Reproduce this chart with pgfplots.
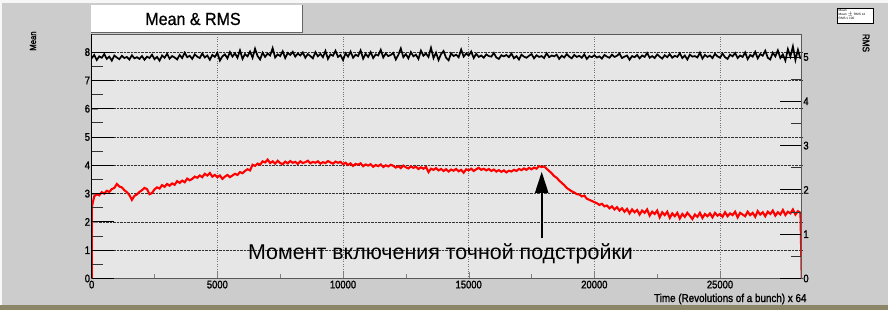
\documentclass[border=0pt]{standalone}
\usepackage{pgfplots}
\pgfplotsset{compat=1.18}
\usepackage{pgfplotstable}
\usetikzlibrary{arrows.meta}
\usepackage{fontspec}
\setmainfont{Liberation Sans}
\newfontfamily\rootfont[FakeStretch=0.86,FakeBold=1.5]{Liberation Sans}
\newfontfamily\titlefont[FakeStretch=0.92,FakeBold=0.8]{Liberation Sans}
\definecolor{outerbg}{HTML}{CCCCCC}
\definecolor{innerbg}{HTML}{E6E6E6}
\definecolor{band}{HTML}{8C8668}

\pgfplotstableread{
x y
0 7.78
100 7.90
200 7.72
300 7.85
400 7.80
500 7.93
600 7.76
700 7.84
800 7.70
900 7.88
1000 7.81
1100 7.75
1200 7.87
1300 7.79
1400 7.83
1500 7.74
1600 7.89
1700 7.78
1800 7.82
1900 7.76
2000 7.86
2100 7.73
2200 7.84
2300 7.79
2400 7.91
2500 7.75
2600 7.83
2700 7.70
2800 7.88
2900 7.80
3000 7.94
3100 7.77
3200 7.86
3300 7.81
3400 7.74
3500 7.90
3600 7.79
3700 7.98
3800 7.82
3900 7.87
4000 7.76
4100 7.92
4200 7.84
4300 7.79
4400 7.95
4500 7.81
4600 7.88
4700 7.73
4800 7.90
4900 7.83
5000 7.97
5100 7.70
5200 7.85
5300 7.92
5400 7.78
5500 8.00
5600 7.84
5700 7.96
5800 7.80
5900 8.06
6000 7.76
6100 7.93
6200 7.85
6300 8.02
6400 7.80
6500 8.12
6600 7.86
6700 7.74
6800 7.98
6900 7.83
7000 7.95
7100 7.88
7200 8.14
7300 7.81
7400 7.92
7500 7.86
7600 8.03
7700 7.79
7800 7.97
7900 7.90
8000 8.01
8100 7.84
8200 7.95
8300 7.88
8400 7.99
8500 7.80
8600 7.93
8700 7.86
8800 7.78
8900 8.00
9000 7.85
9100 7.94
9200 7.82
9300 8.04
9400 7.76
9500 7.92
9600 7.87
9700 8.05
9800 7.83
9900 7.90
10000 7.72
10100 7.96
10200 7.84
10300 8.02
10400 7.80
10500 7.91
10600 7.86
10700 8.06
10800 7.77
10900 7.94
11000 7.83
11100 8.00
11200 7.79
11300 7.92
11400 7.88
11500 8.08
11600 7.81
11700 7.95
11800 7.86
11900 7.90
12000 7.97
12100 7.74
12200 7.90
12300 8.13
12400 7.82
12500 7.93
12600 7.78
12700 8.00
12800 7.85
12900 7.91
13000 7.76
13100 8.05
13200 7.87
13300 7.95
13400 7.83
13500 8.15
13600 7.79
13700 7.98
13800 7.72
13900 7.93
14000 8.04
14100 7.80
14200 7.71
14300 7.96
14400 7.86
14500 7.91
14600 7.82
14700 8.09
14800 7.84
14900 7.95
15000 7.88
15100 8.02
15200 7.79
15300 7.94
15400 7.83
15500 7.88
15600 7.80
15700 7.92
15800 7.86
15900 7.84
16000 7.97
16100 7.81
16200 7.76
16300 7.89
16400 7.85
16500 7.90
16600 7.82
16700 7.95
16800 7.78
16900 7.86
17000 7.74
17100 7.91
17200 7.84
17300 7.80
17400 7.87
17500 7.93
17600 7.78
17700 7.89
17800 7.83
17900 7.86
18000 7.79
18100 7.96
18200 7.82
18300 7.88
18400 7.85
18500 7.91
18600 7.76
18700 7.87
18800 7.81
18900 7.93
19000 7.84
19100 7.78
19200 7.90
19300 7.83
19400 7.87
19500 7.80
19600 7.92
19700 7.76
19800 7.86
19900 7.82
20000 7.89
20100 7.81
20200 7.85
20300 7.77
20400 7.90
20500 7.84
20600 7.80
20700 7.91
20800 7.83
20900 7.87
21000 7.95
21100 7.79
21200 7.84
21300 7.88
21400 7.73
21500 7.86
21600 7.82
21700 7.90
21800 7.78
21900 7.88
22000 7.83
22100 7.97
22200 7.80
22300 7.86
22400 7.79
22500 7.92
22600 7.84
22700 7.77
22800 7.89
22900 7.82
23000 7.93
23100 7.80
23200 7.87
23300 7.83
23400 7.96
23500 7.79
23600 7.88
23700 7.74
23800 7.91
23900 7.84
24000 7.86
24100 7.81
24200 7.98
24300 7.77
24400 7.90
24500 7.83
24600 7.88
24700 7.79
24800 7.94
24900 7.85
25000 7.80
25100 7.95
25200 7.82
25300 7.76
25400 7.91
25500 7.85
25600 7.97
25700 7.79
25800 7.88
25900 7.83
26000 7.99
26100 7.75
26200 7.90
26300 7.84
26400 8.01
26500 7.78
26600 7.93
26700 7.87
26800 8.05
26900 7.80
27000 7.74
27100 7.98
27200 7.85
27300 8.06
27400 7.79
27500 7.92
27600 7.70
27700 8.10
27800 7.84
27900 8.20
28000 7.72
28100 8.08
28200 7.76
}\meantable

\pgfplotstableread{
x y
0 0
10 2.55
100 2.90
200 2.98
300 2.94
400 3.05
500 3.00
600 3.10
700 3.06
800 3.16
900 3.20
1000 3.34
1100 3.25
1200 3.22
1300 3.12
1400 3.05
1500 2.95
1600 2.78
1700 2.92
1800 2.97
1900 3.06
2000 3.12
2100 3.20
2200 3.16
2300 2.98
2400 3.02
2500 3.15
2600 3.22
2700 3.18
2800 3.30
2900 3.24
3000 3.34
3100 3.28
3200 3.36
3300 3.31
3400 3.44
3500 3.38
3600 3.46
3700 3.40
3800 3.53
3900 3.47
4000 3.52
4100 3.60
4200 3.56
4300 3.64
4400 3.58
4500 3.70
4600 3.64
4700 3.73
4800 3.60
4900 3.66
5000 3.58
5100 3.64
5200 3.52
5300 3.60
5400 3.66
5500 3.58
5600 3.64
5700 3.70
5800 3.66
5900 3.76
6000 3.72
6100 3.80
6200 3.86
6300 3.82
6400 4.02
6500 3.98
6600 4.06
6700 4.02
6800 4.14
6900 4.10
7000 4.20
7100 4.08
7200 4.14
7300 4.06
7400 4.16
7500 4.08
7600 4.04
7700 4.13
7800 4.07
7900 4.15
8000 4.09
8100 4.12
8200 4.05
8300 4.14
8400 4.08
8500 4.11
8600 4.16
8700 4.07
8800 4.12
8900 4.09
9000 4.14
9100 4.06
9200 4.11
9300 4.08
9400 4.15
9500 4.10
9600 4.06
9700 4.13
9800 4.09
9900 4.12
10000 4.04
10100 4.09
10200 4.01
10300 4.07
10400 3.98
10500 4.05
10600 4.02
10700 4.07
10800 3.97
10900 4.03
11000 3.99
11100 4.04
11200 3.95
11300 4.01
11400 3.97
11500 4.03
11600 3.94
11700 4.00
11800 3.96
11900 4.02
12000 3.98
12100 3.92
12200 3.97
12300 3.90
12400 3.99
12500 3.93
12600 3.89
12700 3.96
12800 3.91
12900 3.95
13000 3.87
13100 3.93
13200 3.88
13300 3.94
13400 3.76
13500 3.88
13600 3.84
13700 3.90
13800 3.82
13900 3.87
14000 3.80
14100 3.86
14200 3.78
14300 3.85
14400 3.81
14500 3.87
14600 3.79
14700 3.84
14800 3.74
14900 3.86
15000 3.82
15100 3.88
15200 3.80
15300 3.86
15400 3.91
15500 3.84
15600 3.88
15700 3.82
15800 3.87
15900 3.80
16000 3.85
16100 3.78
16200 3.83
16300 3.77
16400 3.82
16500 3.75
16600 3.81
16700 3.78
16800 3.84
16900 3.80
17000 3.87
17100 3.83
17200 3.89
17300 3.84
17400 3.91
17500 3.86
17600 3.92
17700 3.88
17800 3.97
17900 3.94
18000 3.96
18100 3.88
18200 3.80
18300 3.72
18400 3.62
18500 3.56
18600 3.46
18700 3.38
18800 3.30
18900 3.20
19000 3.14
19100 3.08
19200 3.04
19300 2.98
19400 2.97
19500 2.90
19600 2.93
19700 2.82
19800 2.78
19900 2.74
20000 2.70
20100 2.66
20200 2.60
20300 2.64
20400 2.55
20500 2.58
20600 2.48
20700 2.55
20800 2.44
20900 2.52
21000 2.40
21100 2.48
21200 2.36
21300 2.46
21400 2.30
21500 2.44
21600 2.34
21700 2.42
21800 2.26
21900 2.40
22000 2.32
22100 2.44
22200 2.22
22300 2.36
22400 2.28
22500 2.40
22600 2.16
22700 2.34
22800 2.24
22900 2.36
23000 2.14
23100 2.30
23200 2.20
23300 2.32
23400 2.12
23500 2.28
23600 2.18
23700 2.32
23800 2.22
23900 2.10
24000 2.26
24100 2.18
24200 2.32
24300 2.14
24400 2.28
24500 2.20
24600 2.30
24700 2.16
24800 2.32
24900 2.22
25000 2.28
25100 2.18
25200 2.34
25300 2.20
25400 2.30
25500 2.24
25600 2.36
25700 2.16
25800 2.32
25900 2.26
26000 2.20
26100 2.36
26200 2.24
26300 2.32
26400 2.18
26500 2.38
26600 2.26
26700 2.34
26800 2.20
26900 2.36
27000 2.28
27100 2.40
27200 2.22
27300 2.34
27400 2.26
27500 2.42
27600 2.24
27700 2.36
27800 2.30
27900 2.44
28000 2.26
28100 2.38
28200 2.32
28250 0
}\rmstable

\pgfplotsset{
  rootaxis/.style={
    scale only axis, width=710bp, height=244.5bp,
    at={(91.7bp,31.5bp)}, anchor=south west,
    xmin=0, xmax=28250,
    scaled ticks=false,
    tick align=inside,
    tick label style={font=\rootfont\fontsize{11}{11}\selectfont},
  }
}

\begin{document}
\begin{tikzpicture}
\useasboundingbox (0,0) rectangle (888bp,310bp);
\fill[outerbg] (0,0) rectangle (888bp,310bp);
\fill[band] (0,0) rectangle (888bp,5bp);
\fill[white!85!outerbg] (0,307bp) rectangle (888bp,310bp);
\fill[white!85!outerbg] (0,5bp) rectangle (2bp,307bp);
% title box
\fill[white] (91bp,277bp) rectangle (303bp,305bp);
\draw[black!60, line width=1.2bp] (91bp,277.6bp) -- (302.4bp,277.6bp) -- (302.4bp,305bp);
\node[font=\titlefont\fontsize{17.5}{17.5}\selectfont] at (193bp,291bp) {Mean \& RMS};
% small stats box
\draw[black, fill=white, line width=0.5bp] (837bp,287bp) rectangle (873bp,302bp);
\node[anchor=north west, inner sep=0pt, align=left, font=\fontsize{3.2}{3.8}\selectfont] at (838.5bp,300.5bp) {Mean\\Mean $\pm$ RMS x4\\RMS x 100};
% axis titles
\node[rotate=90, font=\rootfont\fontsize{9}{9}\selectfont] at (33bp,269bp) {Mean};
\node[rotate=-90, font=\rootfont\fontsize{9.5}{9.5}\selectfont] at (866bp,267bp) {RMS};
\node[anchor=base east, font=\rootfont\fontsize{11.5}{11.5}\selectfont] at (810bp,8bp) {Time (Revolutions of a bunch) x 64};

% main axis: data, grid, x ticks
\begin{axis}[rootaxis,
  ymin=0, ymax=8.64,
  axis background/.style={fill=innerbg},
  axis line style={black!65, line width=0.8bp},
  xtick={0,5000,10000,15000,20000,25000},
  xticklabels={0,5000,10000,15000,20000,25000},
  minor x tick num=1,
  ytick={0,1,2,3,4,5,6,7,8},
  yticklabels={0,1,2,3,4,5,6,7,8},
  tick pos=left,
  major tick length=6bp, minor tick length=4bp,
  grid=major,
  major x grid style={dotted, black!55, line width=0.9bp},
  major y grid style={densely dotted, black!80, line width=0.7bp},
  xticklabel style={inner sep=2bp},
  yticklabel style={inner sep=1.5bp},
  clip=true,
]
\addplot[black, line width=1.7bp] table[x=x,y=y] {\meantable};
\addplot[red, line width=2.1bp] table[x=x,y=y] {\rmstable};
\draw[black, line width=2bp, -{Triangle[width=13bp,length=21bp]}] (axis cs:17905,1.43) -- (axis cs:17905,3.77);
\end{axis}

% left long ticks
\begin{axis}[rootaxis,
  ymin=0, ymax=8.64,
  hide x axis,
  axis y line*=left,
  axis line style={black, line width=1.3bp},
  ytick={0,1,2,3,4,5,6,7,8},
  yticklabels={},
  minor y tick num=1,
  major tick length=22bp, minor tick length=11bp,
  major tick style={black, line width=0.9bp},
  minor tick style={black!80, line width=0.9bp},
]
\addplot[draw=none] coordinates {(0,0)};
\end{axis}

% right RMS axis
\begin{axis}[rootaxis,
  ymin=0, ymax=5.52,
  hide x axis,
  axis y line*=right,
  axis line style={black!65, line width=0.8bp},
  ytick={0,1,2,3,4,5},
  yticklabels={0,1,2,3,4,5},
  minor y tick num=1,
  major tick length=22bp, minor tick length=11bp,
  major tick style={black, line width=0.9bp},
  minor tick style={black!80, line width=0.9bp},
  yticklabel style={inner sep=1.5bp},
]
\addplot[draw=none] coordinates {(0,0)};
\end{axis}

\node[anchor=base, font=\fontsize{21.5}{21.5}\selectfont] at (440.5bp,50bp) {Момент включения точной подстройки};
\end{tikzpicture}
\end{document}
